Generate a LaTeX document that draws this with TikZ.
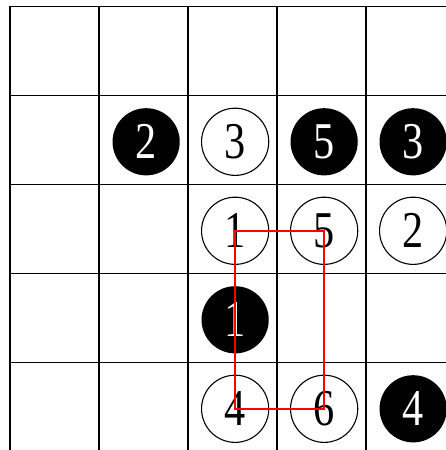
\documentclass[tikz,border=0pt]{standalone}
\usepackage{fontspec}
\setmainfont{Liberation Serif}
\newcommand{\digit}[1]{\scalebox{0.82}[1]{#1}}
\begin{document}
\begin{tikzpicture}[
    stone/.style={circle, minimum size=0.755cm, inner sep=0pt,
        font=\fontsize{16.5}{16.5}\selectfont},
    wstone/.style={stone, draw, line width=0.35pt, fill=white},
    bstone/.style={stone, fill=black, text=white}]
    \useasboundingbox (-0.112,0.073) rectangle (4.899,-4.983);
    \clip (-0.112,0.073) rectangle (4.899,-4.983);

    \draw[line width=0.5pt] (0,-5.2) grid (5.2,0);

    % second row
    \node[bstone] (b2) at (1.53,-1.52) {\digit{2}};
    \node[wstone] (w3) at (2.53,-1.52) {\digit{3}};
    \node[bstone] (b5) at (3.53,-1.52) {\digit{5}};
    \node[bstone] (b3) at (4.53,-1.52) {\digit{3}};

    % third row
    \node[wstone] (w1) at (2.53,-2.52) {\digit{1}};
    \node[wstone] (w5) at (3.53,-2.52) {\digit{5}};
    \node[wstone] (w2) at (4.53,-2.52) {\digit{2}};

    \node[bstone] (b1) at (2.53,-3.52) {\digit{1}};

    % bottom row
    \node[wstone] (w4) at (2.53,-4.52) {\digit{4}};
    \node[wstone] (w6) at (3.53,-4.52) {\digit{6}};
    \node[bstone] (b4) at (4.53,-4.52) {\digit{4}};

    \draw[red, line width=0.55pt] (w1.center) -- (w5.center) -- (w6.center)
        -- (w4.center) -- cycle;
\end{tikzpicture}
\end{document}
